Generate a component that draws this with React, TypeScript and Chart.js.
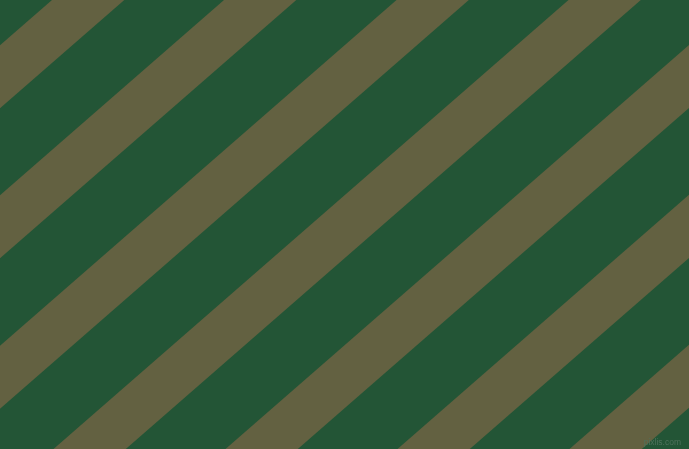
import { useEffect, useRef } from "react"
import { Chart, registerables } from "chart.js"

Chart.register(...registerables)

const WIDTH = 689
const HEIGHT = 449

// x where the left edge of each olive stripe meets the top edge
const stripeStarts = [-292, -120, 52, 224, 396.5, 568.5, 740.5, 912.5, 1084.5, 1256.5]
// horizontal width of an olive stripe
const stripeWidth = 72.3
// how far an edge moves left from top to bottom
const stripeShift = 515

const darkGreen = "#235536"
const olive = "#636141"

export default function App() {
  const chartRef = useRef<HTMLCanvasElement>(null)
  const chartInstance = useRef<Chart | null>(null)

  useEffect(() => {
    document.body.style.margin = "0"
    if (!chartRef.current) return

    if (chartInstance.current) {
      chartInstance.current.destroy()
    }

    const ctx = chartRef.current.getContext("2d")
    if (!ctx) return

    const datasets = stripeStarts.map((x0) => ({
      data: [
        { x: x0, y: 0 },
        { x: x0 + stripeWidth, y: 0 },
        { x: x0 + stripeWidth - stripeShift, y: HEIGHT },
        { x: x0 - stripeShift, y: HEIGHT },
        { x: x0, y: 0 },
      ],
      borderWidth: 0,
      borderColor: olive,
      backgroundColor: olive,
      pointRadius: 0,
      fill: "shape" as const,
      tension: 0,
    }))

    chartInstance.current = new Chart(ctx, {
      type: "line",
      data: { datasets },
      options: {
        animation: false,
        responsive: false,
        maintainAspectRatio: false,
        layout: { padding: 0 },
        events: [],
        scales: {
          x: { type: "linear", min: 0, max: WIDTH, display: false },
          y: { type: "linear", min: 0, max: HEIGHT, reverse: true, display: false },
        },
        plugins: {
          legend: { display: false },
          tooltip: { enabled: false },
        },
      },
    })

    return () => {
      if (chartInstance.current) {
        chartInstance.current.destroy()
        chartInstance.current = null
      }
    }
  }, [])

  return (
    <div style={{ position: "relative", width: WIDTH, height: HEIGHT, background: darkGreen, overflow: "hidden" }}>
      <canvas ref={chartRef} width={WIDTH} height={HEIGHT} style={{ display: "block" }} />
      <div
        style={{
          position: "absolute",
          right: 8,
          bottom: 3,
          fontFamily: "'Liberation Sans', Arial, sans-serif",
          fontSize: 8.5,
          color: "#4d725b",
          lineHeight: 1,
        }}
      >
        pixlis.com
      </div>
    </div>
  )
}
